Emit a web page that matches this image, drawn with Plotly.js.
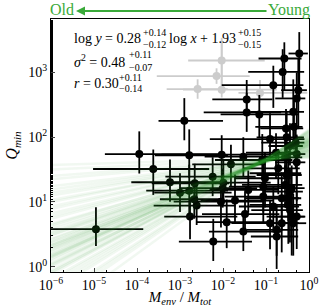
<!DOCTYPE html>
<html><head><meta charset="utf-8">
<script src="https://cdn.plot.ly/plotly-3.0.1.min.js"></script>
<style>html,body{margin:0;padding:0;background:#fff}#chart{width:319px;height:307px}</style>
</head><body><div id="chart"></div>
<script>
// ---- data: black points (M_env/M_tot, Q_min) ----
const menv = [0.594,0.267,0.244,0.148,0.564,0.518,0.0356,0.0356,0.0698,1.26e-3,0.431,0.448,0.292,0.124,0.303,0.491,0.361,0.171,0.277,0.518,0.518,0.0297,9.33e-3,1.64e-3,1.13e-4,2.39e-4,0.0153,0.082,0.193,5.75e-3,5.85e-4,2.2e-3,0.0102,0.0948,0.33,1.0e-3,1.64e-3,9.84e-3,0.0387,0.277,0.396,2.15e-3,2.44e-3,8.97e-3,0.019,0.0865,0.33,0.148,0.361,0.0325,1.71e-3,0.396,0.518,0.0122,0.124,0.232,0.431,0.0297,0.177,0.177,5.94e-3,1.11e-5,0.0865,0.232,0.361,0.33,0.303];
const qmin = [1941,1625,1010,631,528,394,380,240,223,178,245,144,136,93,99,82,72.8,57.3,48.7,54.7,40.8,49.8,53.5,52.3,54.7,32.2,38,44.3,33,24.5,20.1,19.4,19.8,23.2,27.7,13.9,14.9,16.3,15.3,18.3,16.3,11.0,8.8,10.1,10.5,12.1,11.4,8.5,7.5,6.5,5.94,5.94,5.94,4.87,4.7,4.7,4.7,3.49,3.71,2.93,2.45,3.8,17.2,11.4,14.4,9.0,26];
// errors in dex
const xErrLo = [0.25,0.6,0.8,1.2,0.4,0.5,0.8,1.0,0.9,0.6,1.0,0.9,0.6,1.4,0.7,0.8,0.5,0.7,0.6,0.4,0.5,0.9,1.4,0.8,0.8,1.4,0.9,1.1,0.8,1.1,0.9,1.0,1.2,0.7,0.9,0.6,1.0,1.0,0.9,1.0,0.7,0.8,1.0,1.1,0.8,0.9,1.0,0.8,0.9,1.0,0.6,0.5,0.7,0.7,0.9,0.6,0.4,0.8,0.7,0.6,0.8,1.2,0.8,0.8,0.6,0.9,0.7];
const xErrHi = [0.2,0.4,0.5,0.7,0.2,0.2,0.6,0.8,0.9,0.9,0.25,0.2,0.4,0.8,0.4,0.2,0.3,0.5,0.4,0.2,0.2,0.7,1.3,0.9,1.9,1.3,0.8,0.7,0.5,1.0,1.2,0.8,1.1,0.6,0.3,1.2,0.9,0.8,0.7,0.4,0.3,0.7,0.9,1.0,0.9,0.6,0.3,0.6,0.3,0.8,1.1,0.3,0.2,1.0,0.6,0.4,0.3,0.9,0.5,0.5,0.9,1.1,0.6,0.4,0.3,0.3,0.35];
const yErrLo = [0.7,0.5,0.4,0.35,0.6,0.4,0.25,0.3,0.35,0.3,0.4,0.35,0.4,0.3,0.3,0.4,0.3,0.4,0.3,0.5,0.6,0.3,0.4,0.35,0.3,0.4,0.35,0.3,0.4,0.3,0.3,0.35,0.3,0.45,0.4,0.3,0.35,0.3,0.35,0.35,0.4,0.3,0.3,0.4,0.35,0.4,0.35,0.4,0.5,0.3,0.35,0.6,0.5,0.4,0.4,0.45,0.5,0.3,0.4,0.5,0.3,0.26,0.4,0.5,0.4,0.6,0.5];
const yErrHi = [0.33,0.25,0.35,0.3,0.5,0.4,0.3,0.3,0.3,0.35,0.5,0.4,0.3,0.4,0.4,0.3,0.35,0.3,0.3,0.3,0.4,0.3,0.3,0.4,0.35,0.3,0.3,0.4,0.3,0.3,0.35,0.3,0.35,0.4,0.35,0.3,0.4,0.3,0.3,0.3,0.35,0.3,0.35,0.3,0.4,0.3,0.4,0.3,0.35,0.35,0.3,0.4,0.4,0.35,0.35,0.3,0.45,0.3,0.4,0.3,0.35,0.34,0.35,0.4,0.35,0.45,0.4];
// grey (excluded) points
const menvGrey = [9.33e-3,7.08e-3,2.57e-3,9.33e-3,0.0724];
const qminGrey = [1514,871,550,537,479];
const gxLo = [0.78,1.39,0.72,0.9,0.5];
const gxHi = [1.0,0.77,0.7,1.28,1.1];
const gyLo = [0.45,0.12,0.15,0.12,0.15];
const gyHi = [0.31,0.12,0.15,0.8,0.2];
// posterior samples of the fit log y = a log x + b
const slopes = [0.28,0.31,0.25,0.22,0.35,0.19,0.30,0.27,0.33,0.24,0.38,0.16,0.29,0.26,0.41,0.21,0.32,0.12,0.36,0.23,0.28,0.45,0.08,0.30,0.18,0.34,0.26,0.39,0.14,0.27,0.31,0.05,0.22,0.43,0.29,0.25,0.20,0.33,0.10,0.37,0.03,0.15,0.29,0.24,0.48,0.11,0.32,0.20,0.27,0.06,0.35,0.17,0.40,0.13,0.30,0.23,0.02,0.26,0.44,0.09];
const intercepts = [1.93,1.98,1.88,1.85,2.02,1.80,1.95,1.91,2.00,1.87,2.05,1.78,1.94,1.90,2.08,1.83,1.97,1.75,2.04,1.86,1.92,2.10,1.72,1.96,1.82,1.99,1.89,2.06,1.77,1.92,1.95,1.70,1.84,2.09,1.93,1.88,1.81,1.98,1.74,2.03,1.68,1.79,1.91,1.86,2.12,1.76,1.96,1.84,1.90,1.71,2.01,1.80,2.07,1.78,1.94,1.87,1.69,1.89,2.10,1.73];
const xTickVals = [1e-6,1e-5,1e-4,1e-3,1e-2,1e-1,1];
const xTickText = ['10<sup>−6</sup>','10<sup>−5</sup>','10<sup>−4</sup>','10<sup>−3</sup>','10<sup>−2</sup>','10<sup>−1</sup>','10<sup>0</sup>'];
const yTickVals = [1,10,100,1000];
const yTickText = ['10<sup>0</sup>','10<sup>1</sup>','10<sup>2</sup>','10<sup>3</sup>'];

const up = (v, e) => v.map((x,i)=> x*(Math.pow(10,e[i])-1));
const dn = (v, e) => v.map((x,i)=> x*(1-Math.pow(10,-e[i])));
const serif = 'Liberation Serif, DejaVu Serif, serif';
const traces = [];
traces.push({type:'scatter', mode:'markers', x:menvGrey, y:qminGrey,
  marker:{color:'#cccccc', size:8},
  error_x:{type:'data', symmetric:false, array:up(menvGrey,gxHi), arrayminus:dn(menvGrey,gxLo), color:'#cccccc', thickness:1.8, width:0},
  error_y:{type:'data', symmetric:false, array:up(qminGrey,gyHi), arrayminus:dn(qminGrey,gyLo), color:'#cccccc', thickness:1.8, width:0},
  showlegend:false, hoverinfo:'skip'});
traces.push({type:'scatter', mode:'markers', x:menv, y:qmin,
  marker:{color:'#000000', size:8},
  error_x:{type:'data', symmetric:false, array:up(menv,xErrHi), arrayminus:dn(menv,xErrLo), color:'#000000', thickness:1.8, width:0},
  error_y:{type:'data', symmetric:false, array:up(qmin,yErrHi), arrayminus:dn(qmin,yErrLo), color:'#000000', thickness:1.8, width:0},
  showlegend:false, hoverinfo:'skip'});
const xs = [1e-6, 1];
slopes.forEach((a,i)=>{
  const b = intercepts[i];
  traces.push({type:'scatter', mode:'lines', x:xs, y:xs.map(x=>Math.pow(10, a*Math.log10(x)+b)),
    line:{color:'rgba(40,150,40,0.065)', width:2.5}, showlegend:false, hoverinfo:'skip'});
});

const L=51, R=309, T=19, B=272;
const px = v => (v-L)/(R-L), py = v => (B-v)/(B-T);
const ann = [];
const cv = document.createElement('canvas').getContext('2d');
function measure(plain, size){ cv.font = size + 'px "Liberation Serif"'; return cv.measureText(plain).width; }
function txt(t, x, y, size, anchor, color){
  ann.push({text:t, xref:'paper', yref:'paper', x:px(x), y:py(y), xanchor:anchor||'left', yanchor:'middle',
    showarrow:false, borderpad:0, borderwidth:0, font:{family:serif, size:size, color:color||'#000'}});
}
const MS = 14, SS = 10;
function eqLine(x0, yc, pieces){
  let x = x0;
  pieces.forEach(p=>{
    txt(p[0], x, yc, MS);
    x += measure(p[1], MS) + 1;
    if (p[2]){
      txt(p[2], x, yc-6, SS); txt(p[3], x, yc+6, SS);
      x += Math.max(measure(p[2], SS), measure(p[3], SS)) + 3;
    }
  });
}
eqLine(74, 38, [['log <i>y</i> = 0.28','log y = 0.28','+0.14','−0.12'], ['log <i>x</i> + 1.93','log x + 1.93','+0.15','−0.15']]);
eqLine(74, 61, [['<i>σ</i><sup>2</sup> = 0.48','σ2 = 0.48','+0.11','−0.07']]);
eqLine(74, 83, [['<i>r</i> = 0.30','r = 0.30','+0.11','−0.14']]);
txt('Old', 50, 10, 16, 'left', '#3aaa3a');
txt('Young', 310, 10, 16, 'right', '#3aaa3a');
ann.push({text:'', xref:'paper', yref:'paper', x:px(76), y:py(11), ax:192, ay:0, axref:'pixel', ayref:'pixel',
  showarrow:true, arrowhead:2, arrowsize:1, arrowwidth:1.8, arrowcolor:'#3aaa3a'});

const layout = {
  width:319, height:307, margin:{l:L, r:319-R, t:T, b:307-B},
  paper_bgcolor:'#fff', plot_bgcolor:'#fff',
  font:{family:serif, color:'#000'},
  xaxis:{type:'log', range:[-6,0], tickvals:xTickVals, ticktext:xTickText, ticks:'inside', ticklen:4,
    tickfont:{family:serif, size:14}, showgrid:false, zeroline:false, showline:true, linecolor:'#000', linewidth:1, mirror:true,
    minor:{ticks:'inside', ticklen:2, tickcolor:'#000', showgrid:false},
    title:{text:'<i>M</i><sub><i>env</i></sub> / <i>M</i><sub><i>tot</i></sub>', font:{family:serif, size:15}, standoff:2}},
  yaxis:{type:'log', range:[-0.08,3.82], tickvals:yTickVals, ticktext:yTickText, ticks:'inside', ticklen:4,
    tickfont:{family:serif, size:14}, showgrid:false, zeroline:false, showline:true, linecolor:'#000', linewidth:1, mirror:true,
    minor:{ticks:'inside', ticklen:2, tickcolor:'#000', showgrid:false},
    title:{text:'<i>Q</i><sub><i>min</i></sub>', font:{family:serif, size:16}, standoff:6}},
  annotations: ann
};
Plotly.newPlot('chart', traces, layout, {staticPlot:true, displayModeBar:false});
</script></body></html>
